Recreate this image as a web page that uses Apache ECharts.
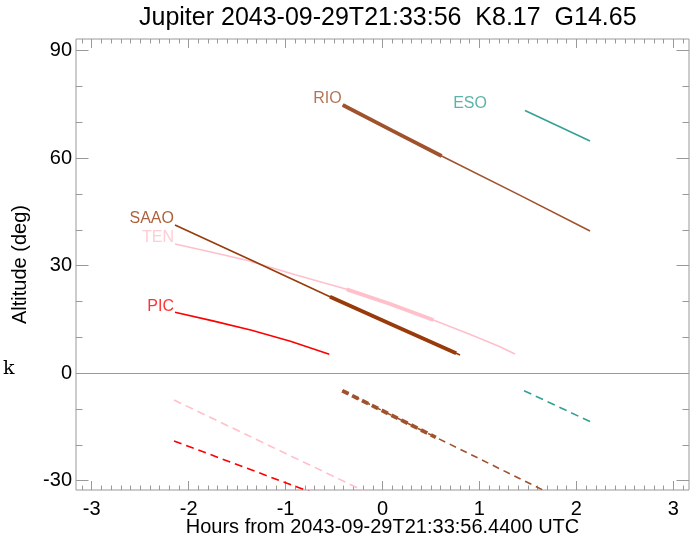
<!DOCTYPE html>
<html><head><meta charset="utf-8">
<script src="https://cdn.jsdelivr.net/npm/echarts@6/dist/echarts.min.js"></script>
<style>html,body{margin:0;padding:0;background:#fff}#c{width:697px;height:541px}</style>
</head><body><div id="c"></div>
<script>
// ---- text ----
const titleText = 'Jupiter 2043-09-29T21:33:56  K8.17  G14.65';
const xTitle = 'Hours from 2043-09-29T21:33:56.4400 UTC';
const yTitle = 'Altitude (deg)';
const strayText = 'k';

// ---- axes ----
const xRange = [-3.162, 3.162];
const yRange = [-32.6, 93.27];
const xMajorTicks = [-3, -2, -1, 0, 1, 2, 3];
const yMajorTicks = [-30, 0, 30, 60, 90];
const yMinorTicks = [-30, -20, -10, 0, 10, 20, 30, 40, 50, 60, 70, 80, 90];
const xMinorTicks = [];
for (let i = -31; i <= 31; i++) xMinorTicks.push(+(i / 10).toFixed(1));

// ---- station names ----
const stationNames = ['RIO', 'ESO', 'SAAO', 'TEN', 'PIC'];

// ---- solid (above horizon) tracks [hours, altitude] ----
const rioLine  = [[-0.41, 74.85], [0.10, 67.7], [0.61, 60.6], [1.40, 49.9], [2.141, 39.7]];
const rioThick = [[-0.41, 74.85], [0.10, 67.7], [0.61, 60.6]];
const esoLine  = [[1.47, 73.3], [2.141, 64.8]];
const saaoLine  = [[-2.141, 41.36], [-1.34, 31.4], [-0.542, 21.35], [0.13, 13.2], [0.80, 5.08]];
const saaoThick = [[-0.542, 21.35], [0.13, 13.2], [0.76, 5.55]];
const tenLine  = [[-2.141, 36.06], [-1.77, 33.8], [-1.401, 31.5], [-0.9, 27.5], [-0.369, 23.4], [0.08, 19.3], [0.524, 14.85], [0.9, 10.9], [1.212, 7.4], [1.367, 5.36]];
const tenThick = [[-0.369, 23.4], [0.08, 19.3], [0.524, 14.85]];
const picLine  = [[-2.141, 17.0], [-1.75, 14.6], [-1.35, 12.0], [-0.95, 8.9], [-0.549, 5.27]];

// ---- dashed (below horizon) tracks ----
const pinkDash  = [[-2.151, -7.48], [-0.12, -33.8]];
const redDash   = [[-2.151, -18.9], [-0.70, -33.6]];
const brownDash = [[-0.415, -4.88], [0.55, -17.9], [1.70, -33.2]];
const brownDashThick = [[-0.415, -4.88], [0.55, -17.9]];
const tealDash  = [[1.46, -4.88], [2.141, -13.5]];

// ---- colours ----
const C = {
  RIO: '#A0522D', ESO: '#35A096', SAAO: '#993A0A', TEN: '#FFC0CB', PIC: '#FF0000', frame: '#999999'
};

const FONT = 'Liberation Sans';
const chart = echarts.init(document.getElementById('c'), null, {renderer: 'canvas'});

function baseX(pos, ticks, len, labels) {
  return {
    type: 'value', min: xRange[0], max: xRange[1], position: pos,
    axisLine: {show: false, onZero: false}, splitLine: {show: false},
    axisTick: {show: true, inside: true, length: len, customValues: ticks, lineStyle: {color: C.frame, width: 1}},
    axisLabel: labels ? {show: true, customValues: xMajorTicks, margin: 9, fontSize: 20, color: '#000', fontFamily: FONT} : {show: false}
  };
}
function baseY(pos, ticks, len, labels) {
  return {
    type: 'value', min: yRange[0], max: yRange[1], position: pos,
    axisLine: {show: false, onZero: false}, splitLine: {show: false},
    axisTick: {show: true, inside: true, length: len, customValues: ticks, lineStyle: {color: C.frame, width: 1}},
    axisLabel: labels ? {show: true, customValues: yMajorTicks, margin: 4, fontSize: 20, color: '#000', fontFamily: FONT} : {show: false}
  };
}

const xAxes = [baseX('bottom', xMajorTicks, 9, true), baseX('bottom', xMinorTicks, 4.5, false),
               baseX('top', xMajorTicks, 9, false), baseX('top', xMinorTicks, 4.5, false)];
Object.assign(xAxes[0], {name: xTitle, nameLocation: 'middle', nameGap: 27, nameMoveOverlap: false,
  nameTextStyle: {fontSize: 20, color: '#000', fontFamily: FONT}});
const yAxes = [baseY('left', yMajorTicks, 12.5, true), baseY('left', yMinorTicks, 6.5, false),
               baseY('right', yMajorTicks, 12.5, false), baseY('right', yMinorTicks, 6.5, false)];
Object.assign(yAxes[0], {name: yTitle, nameLocation: 'middle', nameGap: 46, nameMoveOverlap: false,
  nameTextStyle: {fontSize: 20, color: '#000', fontFamily: FONT}});

function line(data, color, width, dash, z) {
  return {
    type: 'line', data: data, xAxisIndex: 0, yAxisIndex: 0, symbol: 'none', showSymbol: false,
    lineStyle: {color: color, width: width, type: dash || 'solid', cap: 'butt'},
    silent: true, animation: false, z: z || 2, clip: true
  };
}

const series = [
  line(tenLine, C.TEN, 1.6), line(tenThick, C.TEN, 3.8),
  line(picLine, C.PIC, 1.6),
  line(saaoLine, C.SAAO, 1.6, null, 3), line(saaoThick, C.SAAO, 3.8, null, 3),
  line(rioLine, C.RIO, 1.6), line(rioThick, C.RIO, 3.8),
  line(esoLine, C.ESO, 1.6),
  line(pinkDash, C.TEN, 1.6, [8, 5]),
  line(redDash, C.PIC, 1.6, [8, 5]),
  line(brownDash, C.RIO, 1.6, [7, 5]), line(brownDashThick, C.RIO, 3.8, [7, 4]),
  line(tealDash, C.ESO, 1.6, [8, 5])
];
// horizon line
series[0].markLine = {
  silent: true, symbol: ['none', 'none'], animation: false,
  label: {show: false},
  lineStyle: {color: C.frame, width: 1.2, type: 'solid'},
  data: [{yAxis: 0}]
};

// station labels at the start of each track
const labelAnchors = [rioLine[0], esoLine[0], saaoLine[0], tenLine[0], picLine[0]];
const labelOffsets = [[0, -6], [-37, -7], [0, -6], [0, -6], [0, -6]];
series.push({
  type: 'scatter', xAxisIndex: 0, yAxisIndex: 0, symbolSize: 0, silent: true, animation: false, z: 5,
  itemStyle: {color: 'rgba(0,0,0,0)'},
  data: stationNames.map((n, i) => ({
    name: n, value: labelAnchors[i],
    label: {show: true, position: 'left', distance: 1, offset: labelOffsets[i], formatter: '{b}',
      color: C[n], fontSize: 16, fontFamily: FONT}
  }))
});

chart.setOption({
  animation: false,
  backgroundColor: '#fff',
  grid: {left: 76, top: 39, width: 613, height: 451, show: true, borderColor: C.frame, borderWidth: 1,
    containLabel: false, outerBoundsMode: 'none'},
  title: {text: titleText, left: 139, top: 6, padding: 0,
    textStyle: {fontSize: 25, fontWeight: 'normal', color: '#000', fontFamily: FONT}},
  graphic: [{type: 'text', left: 3, top: 360, style: {text: strayText, fontSize: 19, fontFamily: 'DejaVu Serif', fill: '#000'}}],
  xAxis: xAxes,
  yAxis: yAxes,
  series: series
});
</script></body></html>
